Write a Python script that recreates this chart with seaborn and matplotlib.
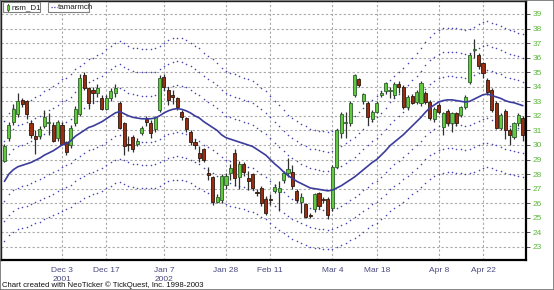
import numpy as np
import pandas as pd
import matplotlib
matplotlib.use("Agg")
import matplotlib.pyplot as plt
import seaborn as sns
from matplotlib.patches import Rectangle
from matplotlib.lines import Line2D

# ---------------- data ----------------
opens = [28.9, 30.5, 31.6, 32.1, 33.1, 33.0, 31.5, 30.6, 30.6, 31.3,
         31.5, 31.4, 30.5, 31.4, 30.2, 30.0, 31.5, 32.1, 34.8, 33.9,
         33.8, 33.6, 33.2, 32.5, 33.2, 33.6, 32.9, 31.5, 30.1, 30.55,
         30.1, 30.8, 31.8, 31.5, 31.1, 32.4, 34.7, 33.8, 33.4, 33.2,
         32.3, 31.85, 30.9, 30.2, 29.45, 29.7, 28.1, 27.8, 26.1, 26.2,
         27.25, 28.1, 29.45, 27.8, 28.7, 27.7, 28.0, 26.8, 27.05, 26.3,
         26.3, 26.85, 26.8, 27.6, 28.1, 28.15, 26.84, 26.1, 25.95, 25.15,
         25.6, 26.7, 26.25, 26.3, 25.7, 28.5, 30.8, 31.5, 31.5, 33.45,
         34.5, 33.0, 32.9, 31.8, 32.3, 33.45, 33.7, 33.7, 33.44, 34.2,
         34.0, 32.6, 33.37, 32.96, 32.89, 33.57, 32.96, 31.79, 32.75, 31.24,
         32.34, 31.51, 32.2, 32.06, 32.61, 34.3, 36.5, 36.2, 35.6, 34.47,
         33.78, 32.89, 31.17, 32.34, 31.03, 30.55, 31.51, 31.86]
closes = [29.9, 31.4, 32.5, 33.0, 32.8, 32.1, 30.7, 30.4, 31.1, 31.9,
          31.6, 30.3, 31.6, 30.1, 29.5, 31.2, 32.5, 34.6, 33.9, 32.9,
          33.6, 33.9, 32.5, 33.2, 33.7, 33.9, 31.2, 29.9, 30.0, 29.7,
          30.3, 31.2, 31.6, 30.8, 31.9, 34.6, 34.0, 33.1, 33.3, 32.6,
          31.9, 31.1, 30.2, 30.0, 29.1, 28.95, 27.95, 26.1, 26.4, 27.9,
          27.9, 28.4, 27.7, 28.7, 28.15, 27.5, 27.05, 26.7, 26.0, 25.35,
          26.25, 27.1, 27.05, 28.1, 28.35, 27.2, 26.2, 26.4, 25.05, 25.1,
          26.6, 25.8, 26.2, 25.2, 28.5, 31.0, 32.1, 31.6, 32.9, 34.8,
          34.1, 33.5, 31.9, 32.3, 32.9, 33.6, 34.26, 33.75, 34.2, 34.0,
          32.6, 33.3, 32.9, 33.64, 34.26, 32.96, 31.86, 32.5, 32.27, 32.2,
          31.51, 32.2, 31.51, 32.61, 33.3, 36.2, 36.55, 35.4, 34.95, 33.64,
          32.41, 31.17, 32.06, 31.03, 30.69, 31.51, 32.06, 30.69]
highs = [30.1, 31.6, 32.8, 33.6, 33.2, 33.1, 31.7, 31.0, 31.3, 32.4,
         32.2, 31.6, 31.7, 31.6, 30.3, 31.4, 32.7, 34.9, 35.0, 34.0,
         34.0, 34.2, 33.4, 33.4, 33.9, 34.2, 33.0, 31.6, 30.6, 30.7,
         30.5, 31.3, 32.0, 31.7, 32.0, 34.8, 34.9, 34.0, 33.8, 33.3,
         32.4, 31.9, 31.0, 30.4, 29.9, 29.8, 28.5, 27.9, 26.6, 28.0,
         28.1, 28.7, 29.7, 28.9, 28.8, 28.2, 28.1, 27.0, 27.2, 26.5,
         26.6, 27.3, 27.5, 28.2, 29.1, 28.6, 27.0, 26.7, 26.0, 25.3,
         26.7, 26.8, 26.4, 26.4, 28.6, 31.1, 32.3, 32.3, 33.0, 34.9,
         34.6, 33.6, 33.0, 32.4, 33.0, 33.7, 34.3, 34.0, 34.3, 34.4,
         34.1, 33.4, 33.5, 33.8, 34.4, 33.7, 33.1, 32.6, 32.9, 32.3,
         32.5, 32.3, 32.3, 32.7, 33.4, 36.3, 37.3, 36.3, 35.7, 34.6,
         33.9, 33.0, 32.2, 32.5, 31.2, 31.6, 32.2, 32.0]
lows = [28.8, 30.3, 31.4, 31.9, 32.6, 31.8, 30.5, 29.4, 30.4, 31.2,
        30.7, 30.2, 30.3, 30.0, 29.3, 29.8, 31.3, 32.0, 33.8, 32.5,
        32.9, 33.3, 32.4, 32.4, 33.0, 33.3, 31.1, 29.3, 29.6, 29.5,
        29.9, 30.7, 31.3, 30.5, 30.9, 32.3, 33.8, 32.75, 32.8, 32.4,
        31.7, 30.9, 30.0, 29.7, 28.8, 28.8, 27.6, 25.9, 26.0, 26.0,
        27.0, 27.6, 27.2, 27.0, 27.9, 26.9, 26.9, 26.5, 25.8, 25.2,
        25.9, 26.7, 25.5, 27.4, 27.8, 27.0, 26.0, 25.3, 25.0, 25.0,
        25.4, 25.6, 26.0, 24.9, 25.5, 28.4, 30.5, 30.5, 31.3, 33.3,
        34.0, 32.8, 31.4, 31.6, 32.2, 33.3, 33.5, 33.2, 33.2, 33.6,
        32.5, 32.4, 32.8, 32.8, 32.7, 32.8, 31.7, 31.6, 32.1, 30.7,
        31.3, 30.9, 31.3, 31.9, 32.5, 34.2, 36.0, 35.2, 34.6, 33.4,
        32.3, 31.1, 31.0, 30.4, 30.0, 30.4, 31.3, 30.3]
ma_values = [27.5, 28.0, 28.3, 28.5, 28.6, 28.7, 28.8, 28.95, 29.1, 29.3,
             29.45, 29.6, 29.8, 30.0, 30.1, 30.3, 30.6, 30.8, 31.0, 31.2,
             31.3, 31.45, 31.6, 31.8, 32.0, 32.2, 32.3, 32.15, 32.0, 31.9,
             31.85, 31.8, 31.8, 31.8, 31.85, 32.0, 32.2, 32.35, 32.45, 32.5,
             32.45, 32.35, 32.2, 32.0, 31.85, 31.6, 31.4, 31.2, 31.0, 30.7,
             30.5, 30.4, 30.3, 30.2, 30.1, 30.0, 29.9, 29.7, 29.5, 29.3,
             29.0, 28.7, 28.45, 28.15, 27.9, 27.7, 27.5, 27.35, 27.2, 27.05,
             27.0, 26.95, 26.9, 26.85, 26.9, 27.05, 27.2, 27.4, 27.6, 27.8,
             28.05, 28.3, 28.55, 28.8, 29.0, 29.3, 29.6, 29.95, 30.2, 30.45,
             30.7, 31.0, 31.3, 31.6, 31.9, 32.25, 32.55, 32.75, 32.95, 33.05,
             33.1, 33.1, 33.05, 33.0, 32.95, 33.0, 33.15, 33.3, 33.45, 33.5,
             33.4, 33.3, 33.2, 33.05, 32.95, 32.9, 32.8, 32.7]
envelope_pcts = [0.05, 0.10, 0.15]
holidays = ["2001-11-22", "2001-12-25", "2002-01-01", "2002-01-21",
            "2002-02-18", "2002-03-29"]
tick_dates = ["2001-12-03", "2001-12-17", "2002-01-07", "2002-01-28",
              "2002-02-11", "2002-03-04", "2002-03-18", "2002-04-08",
              "2002-04-22"]
tick_labels = ["Dec 3\n2001", "Dec 17", "Jan 7\n2002", "Jan 28", "Feb 11",
               "Mar 4", "Mar 18", "Apr 8", "Apr 22"]
y_ticks = list(range(23, 40))

# ---------------- frame ----------------
dates = pd.bdate_range("2001-11-13", "2002-05-03")
dates = dates[~dates.isin(pd.to_datetime(holidays))]
df = pd.DataFrame({"date": dates, "open": opens, "high": highs,
                   "low": lows, "close": closes, "ma": ma_values})
df["pos"] = np.arange(len(df))
tick_pos = [int(df.index[df["date"] == pd.Timestamp(d)][0]) for d in tick_dates]

sns.set_style("white")
plt.rcParams["font.family"] = ["Liberation Sans", "DejaVu Sans"]

W, H = 554, 290
fig = plt.figure(figsize=(W / 100, H / 100), dpi=100)
L, T, R, B = 1, 1, 526, 260
ax = fig.add_axes([L / W, 1 - B / H, (R - L) / W, (B - T) / H])
ax.set_facecolor("white")

# grid
grid_kw = dict(color="#a8a8a8", linewidth=0.8, linestyle=(0, (2, 2)), zorder=0)
for yv in y_ticks:
    ax.axhline(yv, **grid_kw)
for xp in tick_pos:
    ax.axvline(xp, **grid_kw)

# envelope bands (dots)
dot_color = "#4646b4"
for p in envelope_pcts:
    for sgn in (1, -1):
        sns.scatterplot(x=df["pos"], y=df["ma"] * (1 + sgn * p), s=1.3,
                        color=dot_color, linewidth=0, ax=ax, zorder=2,
                        legend=False)

# moving average
sns.lineplot(x=df["pos"], y=df["ma"], color="#3c3c9c", linewidth=1.2,
             ax=ax, zorder=5, legend=False)

# candles
up = df["close"] >= df["open"]
ax.vlines(df["pos"], df["low"], df["high"], color="#303030", linewidth=0.9,
          zorder=3)
body_low = np.minimum(df["open"], df["close"])
body_h = np.maximum(np.abs(df["close"] - df["open"]), 0.07)
ax.bar(df["pos"][up], body_h[up], bottom=body_low[up], width=0.7,
       color="#62c83c", edgecolor="#2e5e2e", linewidth=0.6, zorder=4)
ax.bar(df["pos"][~up], body_h[~up], bottom=body_low[~up], width=0.7,
       color="#9a2c12", edgecolor="#2a1a10", linewidth=0.6, zorder=4)

# axes limits
ax.set_xlim(-0.77, 117.7)
ax.set_ylim(22.10, 39.89)

ax.yaxis.tick_right()
ax.set_yticks(y_ticks)
ax.set_yticklabels([str(v) for v in y_ticks])
ax.tick_params(axis="y", colors="#303030", labelcolor="#5cb83c",
               labelsize=6, length=3, width=0.6, pad=2)
ax.set_xticks(tick_pos)
ax.set_xticklabels(tick_labels, linespacing=1.35)
ax.tick_params(axis="x", colors="#303030", labelcolor="#4a4a80",
               labelsize=6, length=3, width=0.6, pad=2)
ax.set_xlabel("")
ax.set_ylabel("")

for side in ("top", "left"):
    ax.spines[side].set_color("#202020")
    ax.spines[side].set_linewidth(1.0)
for side in ("bottom", "right"):
    ax.spines[side].set_color("#000000")
    ax.spines[side].set_linewidth(1.6)

# ---------------- legend boxes ----------------
def fx(px):
    return px / W


def fy(py):
    return 1 - py / H


for (x0, x1) in [(3, 40), (48, 89)]:
    fig.patches.append(Rectangle((fx(x0), fy(12)), fx(x1) - fx(x0),
                                 fy(2.5) - fy(12), transform=fig.transFigure,
                                 facecolor="white", edgecolor="#808080",
                                 linewidth=0.8, zorder=10))
# candle icon
fig.lines.append(Line2D([fx(8), fx(8)], [fy(3.5), fy(11)],
                        transform=fig.transFigure, color="#303030",
                        linewidth=0.7, zorder=11))
fig.patches.append(Rectangle((fx(7), fy(10)), fx(2), fy(4.5) - fy(10),
                             transform=fig.transFigure, facecolor="#62c83c",
                             edgecolor="#2e5e2e", linewidth=0.5, zorder=12))
fig.text(fx(12), fy(7.3), "nsm_D1", fontsize=5.8, color="#202020",
         va="center", ha="left", zorder=12)
fig.lines.append(Line2D([fx(51), fx(57)], [fy(7.3), fy(7.3)],
                        transform=fig.transFigure, color=dot_color,
                        linewidth=0.9, linestyle=(0, (1, 1.2)), zorder=11))
fig.text(fx(58), fy(7.3), "tamarmch", fontsize=5.8, color="#202020",
         va="center", ha="left", zorder=12)

# footer
fig.text(fx(2), fy(285), "Chart created with NeoTicker \u00a9 TickQuest, Inc. 1998-2003",
         fontsize=5.6, color="#101010", va="center", ha="left")

# outer frame
fig.patches.append(Rectangle((0, 0), 1, 1, transform=fig.transFigure,
                             fill=False, edgecolor="#707070", linewidth=1.2,
                             zorder=20))

fig.savefig("out.png", dpi=100)
